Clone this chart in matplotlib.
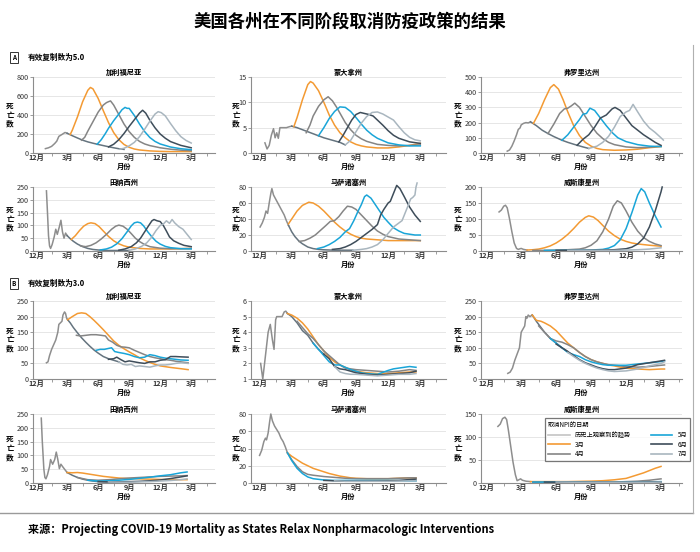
import matplotlib.pyplot as plt
from matplotlib.lines import Line2D

plt.rcParams['font.family'] = ['Noto Sans CJK SC', 'DejaVu Sans']

W, H = 700, 552

# x: month index, 0 = 2019年12月, 3 = 2020年3月, ..., 15 = 2021年3月
month_pos = [0, 3, 6, 9, 12, 15]
month_lbl = ['12月', '3月', '6月', '9月', '12月', '3月']

series_names = ['历史上观察到的趋势', '3月', '4月', '5月', '6月', '7月']
series_colors = ['#8e8e8e', '#f39a33', '#858585', '#19a5d8', '#3e4d5a', '#a9b6bf']
legend_colors = ['#c4c4c4', '#f39a33', '#858585', '#19a5d8', '#3e4d5a', '#a9b6bf']
base_color = '#65747f'

# ---------- A: 有效复制数为5.0 ----------
ca5_yt = [0, 200, 400, 600, 800]
ca5_hist = [(0.9, 46), (1.2, 55), (1.5, 70), (1.8, 100), (2.0, 125), (2.2, 175), (2.5, 195), (2.8, 216), (3.0, 208)]
ca5_base = [(3.0, 208), (3.5, 182), (4.0, 158), (4.5, 135), (5.0, 117), (5.5, 103), (6.0, 90), (6.5, 78),
            (7.0, 66), (7.5, 55), (8.0, 45), (8.5, 38)]
ca5_m3 = [(3.3, 195), (3.5, 240), (4.0, 380), (4.5, 540), (5.0, 660), (5.25, 690), (5.5, 675), (6.0, 575),
          (6.5, 445), (7.0, 320), (7.5, 215), (8.0, 140), (8.5, 90), (9.0, 60), (9.5, 42), (10, 32), (11, 22),
          (12, 17), (13, 15), (14, 15), (15, 15)]
ca5_m4 = [(4.4, 135), (4.7, 165), (5.0, 230), (5.5, 330), (6.0, 430), (6.5, 505), (6.8, 530), (7.0, 540),
          (7.2, 548), (7.5, 505), (8.0, 405), (8.5, 305), (9.0, 225), (9.5, 165), (10, 122), (10.5, 95),
          (11, 78), (12, 55), (13, 40), (14, 30), (15, 24)]
ca5_m5 = [(5.9, 92), (6.3, 140), (6.7, 205), (7.0, 260), (7.5, 340), (8.0, 410), (8.3, 455), (8.6, 480),
          (8.8, 470), (9.0, 470), (9.5, 395), (10, 305), (10.5, 225), (11, 163), (11.5, 122), (12, 95),
          (13, 63), (14, 45), (15, 35)]
ca5_m6 = [(7.0, 64), (7.5, 92), (8.0, 140), (8.5, 205), (9.0, 280), (9.5, 350), (10, 420), (10.3, 450),
          (10.6, 420), (11, 345), (11.5, 265), (12, 200), (12.5, 155), (13, 120), (14, 80), (15, 55)]
ca5_m7 = [(8.1, 40), (8.5, 50), (9.0, 75), (9.5, 112), (10, 172), (10.5, 250), (11, 335), (11.5, 410),
          (11.8, 435), (12.1, 425), (12.5, 390), (13, 310), (13.5, 235), (14, 172), (14.5, 132), (15, 105)]

mt5_yt = [0, 5, 10, 15]
mt5_hist = [(0.5, 2.0), (0.7, 0.8), (0.9, 1.5), (1.1, 3.5), (1.3, 4.8), (1.45, 3.0), (1.6, 4.0), (1.75, 2.9),
            (1.9, 5.0), (2.2, 5.0), (2.5, 5.0), (2.8, 5.2), (3.0, 5.3)]
mt5_base = [(3.0, 5.3), (3.5, 5.0), (4.0, 4.6), (4.5, 4.2), (5.0, 3.8), (5.5, 3.4), (6.0, 3.0), (6.5, 2.7),
            (7.0, 2.4), (7.5, 2.1), (8.0, 1.6)]
mt5_m3 = [(3.2, 5.2), (3.5, 7.0), (4.0, 10.5), (4.5, 13.5), (4.75, 14.1), (5.0, 13.8), (5.5, 12.3), (6.0, 10.0),
          (6.5, 7.5), (7.0, 5.5), (7.5, 4.0), (8.0, 3.0), (8.5, 2.2), (9.0, 1.7), (9.5, 1.4), (10, 1.2),
          (11, 1.0), (12, 1.0), (13, 1.2), (14, 1.5), (15, 1.9)]
mt5_m4 = [(4.35, 4.0), (4.7, 5.5), (5.0, 7.3), (5.5, 9.2), (6.0, 10.5), (6.4, 11.1), (6.8, 10.3), (7.2, 9.0),
          (7.6, 7.5), (8.0, 6.0), (8.5, 4.6), (9.0, 3.5), (9.5, 2.8), (10, 2.3), (11, 1.7), (12, 1.5),
          (13, 1.4), (14, 1.5), (15, 1.6)]
mt5_m5 = [(5.5, 3.4), (6.0, 5.0), (6.5, 6.8), (7.0, 8.2), (7.5, 9.1), (8.0, 9.0), (8.5, 8.2), (9.0, 7.0),
          (9.5, 5.7), (10, 4.5), (10.5, 3.6), (11, 2.9), (12, 2.0), (13, 1.6), (14, 1.4), (15, 1.4)]
mt5_m6 = [(7.4, 2.2), (7.8, 3.5), (8.2, 5.0), (8.6, 6.5), (9.0, 7.6), (9.4, 8.0), (9.8, 7.8), (10.2, 7.6),
          (10.6, 7.3), (11.0, 6.5), (11.5, 5.5), (12, 4.4), (12.5, 3.5), (13, 2.9), (14, 2.2), (15, 1.9)]
mt5_m7 = [(8.0, 1.6), (8.5, 2.5), (9.0, 4.2), (9.5, 5.9), (10, 7.2), (10.5, 8.0), (11, 8.1), (11.5, 7.7),
          (12, 7.1), (12.5, 6.5), (13, 5.2), (13.5, 4.0), (14, 3.1), (14.5, 2.6), (15, 2.4)]

fl5_yt = [0, 100, 200, 300, 400, 500]
fl5_hist = [(1.8, 12), (2.0, 20), (2.2, 45), (2.4, 80), (2.6, 120), (2.75, 155), (2.9, 165), (3.0, 185),
            (3.2, 195), (3.4, 200), (3.6, 198), (3.8, 205)]
fl5_base = [(3.8, 205), (4.3, 180), (4.8, 150), (5.3, 128), (5.8, 108), (6.5, 84), (7.0, 70), (7.5, 58),
            (7.8, 51), (8.3, 40), (8.8, 30)]
fl5_m3 = [(4.05, 195), (4.5, 260), (5.0, 350), (5.5, 430), (5.8, 450), (6.2, 420), (6.6, 350), (7.0, 270),
          (7.5, 180), (8.0, 115), (8.5, 70), (9.0, 45), (9.5, 30), (10, 22), (11, 18), (12, 20), (13, 25),
          (14, 35), (15, 42)]
fl5_m4 = [(5.3, 128), (5.8, 190), (6.3, 260), (6.7, 290), (7.0, 295), (7.3, 310), (7.6, 328), (8.0, 300),
          (8.5, 240), (9.0, 180), (9.5, 130), (10, 95), (10.5, 70), (11, 55), (12, 40), (13, 35), (14, 38), (15, 45)]
fl5_m5 = [(6.5, 84), (7.0, 120), (7.5, 170), (8.0, 220), (8.3, 255), (8.6, 260), (8.9, 295), (9.3, 280),
          (9.8, 230), (10.3, 180), (10.8, 135), (11.3, 100), (12, 75), (13, 55), (14, 45), (15, 42)]
fl5_m6 = [(7.8, 51), (8.3, 90), (8.8, 120), (9.3, 170), (9.8, 230), (10.3, 250), (10.8, 290), (11.05, 300),
          (11.5, 280), (12, 230), (12.5, 180), (13, 150), (13.5, 120), (14, 95), (14.5, 70), (15, 50)]
fl5_m7 = [(8.8, 30), (9.5, 45), (10, 70), (10.5, 110), (11, 170), (11.5, 240), (12, 270), (12.3, 280),
          (12.6, 320), (13, 270), (13.5, 210), (14, 165), (14.5, 135), (15, 100), (15.2, 85)]

tn5_yt = [0, 50, 100, 150, 200, 250]
tn5_hist = [(1.0, 235), (1.1, 150), (1.2, 60), (1.3, 20), (1.4, 10), (1.55, 25), (1.75, 55), (1.9, 85),
            (2.05, 65), (2.25, 95), (2.4, 120), (2.55, 75), (2.7, 50), (2.85, 70), (3.0, 60)]
tn5_base = [(3.0, 60), (3.3, 48), (3.6, 38), (4.0, 27), (4.5, 17), (5.0, 10), (5.5, 6), (6.0, 4), (6.5, 3),
            (7.0, 2), (8.0, 2), (9.0, 2)]
tn5_m3 = [(3.4, 45), (3.8, 60), (4.2, 80), (4.6, 97), (5.0, 107), (5.3, 110), (5.7, 107), (6.1, 95), (6.5, 78),
          (7.0, 57), (7.5, 40), (8.0, 28), (8.5, 20), (9.0, 15), (10, 10), (11, 8), (12, 8), (13, 8), (14, 9), (15, 10)]
tn5_m4 = [(4.3, 20), (4.8, 17), (5.3, 22), (5.8, 32), (6.3, 47), (6.8, 65), (7.3, 85), (7.7, 97), (8.0, 101),
          (8.4, 97), (8.8, 85), (9.2, 68), (9.6, 50), (10, 37), (10.5, 25), (11, 17), (12, 11), (13, 9), (14, 9), (15, 10)]
tn5_m5 = [(6.2, 4), (6.8, 8), (7.3, 15), (7.8, 28), (8.3, 48), (8.8, 75), (9.2, 98), (9.5, 110), (9.8, 113),
          (10.1, 110), (10.4, 98), (10.8, 75), (11.2, 55), (11.6, 38), (12, 27), (12.5, 18), (13, 13), (14, 9), (15, 8)]
tn5_m6 = [(8.0, 3), (8.6, 8), (9.2, 17), (9.7, 32), (10.1, 50), (10.5, 75), (10.9, 100), (11.2, 118), (11.4, 123),
          (11.7, 118), (12.0, 115), (12.3, 100), (12.6, 78), (12.9, 55), (13.3, 40), (13.8, 30), (14.3, 22), (15, 17)]
tn5_m7 = [(9.0, 3), (9.6, 8), (10.2, 18), (10.7, 32), (11.2, 55), (11.6, 80), (12, 100), (12.3, 105), (12.6, 118),
          (12.9, 108), (13.15, 123), (13.4, 110), (13.8, 95), (14.2, 85), (14.6, 65), (15, 45)]

ma5_yt = [0, 20, 40, 60, 80]
ma5_hist = [(0.05, 30), (0.25, 35), (0.45, 42), (0.6, 50), (0.75, 47), (0.9, 60), (1.05, 72), (1.15, 78),
            (1.3, 70), (1.5, 65), (1.7, 60), (1.9, 55), (2.1, 50), (2.3, 45), (2.5, 38), (2.7, 32)]
ma5_base = [(2.7, 32), (3.0, 24), (3.3, 18), (3.7, 12), (4.0, 9), (4.5, 5), (5.0, 3), (5.5, 2), (6.0, 1.5),
            (7.0, 1), (8.0, 1), (8.7, 1)]
ma5_m3 = [(2.7, 34), (3.0, 40), (3.5, 50), (4.0, 57), (4.6, 61), (5.0, 60), (5.5, 56), (6.0, 50), (6.5, 43),
          (7.0, 36), (7.5, 30), (8.0, 25), (8.5, 21), (9.0, 18), (9.5, 16), (10, 15), (11, 14), (12, 13), (13, 13),
          (14, 13), (15, 13)]
ma5_m4 = [(3.7, 12), (4.2, 13), (4.7, 16), (5.2, 20), (5.7, 26), (6.2, 32), (6.6, 37), (7.0, 38), (7.4, 43),
          (7.8, 50), (8.2, 56), (8.6, 55), (9.0, 52), (9.5, 45), (10, 38), (10.5, 31), (11, 25), (11.5, 21),
          (12, 18), (13, 15), (14, 14), (15, 13)]
ma5_m5 = [(5.4, 3), (6.0, 5), (6.5, 8), (7.0, 12), (7.5, 17), (8.0, 24), (8.4, 28), (8.8, 38), (9.2, 50),
          (9.5, 58), (9.8, 68), (10.0, 70), (10.4, 66), (10.8, 58), (11.2, 50), (11.6, 42), (12, 36), (12.5, 29),
          (13, 25), (13.5, 22), (14, 21), (14.5, 20), (15, 20)]
ma5_m6 = [(6.8, 2), (7.5, 3), (8.0, 5), (8.5, 8), (9.0, 12), (9.5, 17), (10, 22), (10.5, 27), (11, 33),
          (11.3, 45), (11.6, 52), (12.0, 60), (12.2, 62), (12.5, 72), (12.8, 82), (13.1, 78), (13.5, 68),
          (14, 55), (14.5, 45), (15, 37)]
ma5_m7 = [(8.7, 1), (9.5, 2), (10, 3), (10.5, 5), (11, 8), (11.5, 14), (12, 22), (12.5, 30), (13, 35),
          (13.3, 38), (13.6, 48), (13.9, 58), (14.1, 65), (14.3, 67), (14.5, 70), (14.6, 80), (14.7, 85)]

wi5_yt = [0, 50, 100, 150, 200]
wi5_hist = [(1.1, 122), (1.3, 128), (1.5, 140), (1.65, 143), (1.8, 135), (2.0, 100), (2.2, 60), (2.4, 25),
            (2.6, 8), (2.75, 5), (2.9, 7), (3.0, 8), (3.2, 5), (3.5, 3)]
wi5_base = []
wi5_m3 = [(3.5, 3), (4.0, 4), (4.5, 6), (5.0, 10), (5.5, 16), (6.0, 25), (6.5, 37), (7.0, 52), (7.5, 70),
          (8.0, 90), (8.5, 105), (8.8, 110), (9.2, 106), (9.6, 95), (10, 80), (10.5, 62), (11, 48), (11.5, 37),
          (12, 30), (12.5, 25), (13, 22), (14, 18), (15, 15)]
wi5_m4 = [(4.0, 2), (5, 2), (6, 3), (7, 4), (8, 6), (8.5, 10), (9.0, 18), (9.5, 32), (10, 60), (10.5, 100),
          (10.9, 140), (11.25, 157), (11.6, 150), (12, 125), (12.5, 90), (13, 62), (13.5, 42), (14, 30),
          (14.5, 22), (15, 17)]
wi5_m5 = [(5, 2), (7, 2), (9, 3), (10, 5), (10.5, 9), (11, 17), (11.5, 35), (12, 70), (12.5, 120), (13, 175),
          (13.3, 195), (13.6, 185), (14, 150), (14.5, 110), (15, 75)]
wi5_m6 = [(6, 2), (8, 2), (10, 3), (11, 4), (12, 7), (12.5, 12), (13, 22), (13.5, 40), (14, 75), (14.5, 125),
          (15, 185), (15.1, 200)]
wi5_m7 = [(7, 2), (9, 2), (11, 2), (12, 3), (13, 4), (14, 6), (15, 10)]

# ---------- B: 有效复制数为3.0 ----------
ca3_yt = [0, 50, 100, 150, 200, 250]
ca3_hist = [(1.0, 52), (1.15, 55), (1.3, 75), (1.5, 95), (1.7, 110), (1.9, 125), (2.1, 150), (2.2, 175),
            (2.35, 180), (2.5, 185), (2.6, 205), (2.75, 215), (2.85, 210), (2.95, 195), (3.05, 190)]
ca3_base = [(3.05, 190), (3.3, 180), (3.6, 165), (4.0, 148), (4.4, 132), (4.8, 118), (5.2, 105), (5.6, 93),
            (6.0, 83), (6.5, 72), (7.0, 65), (7.5, 60), (8.0, 55)]
ca3_m3 = [(3.05, 190), (3.5, 200), (4.0, 210), (4.4, 212), (4.8, 210), (5.2, 200), (5.6, 188), (6.0, 175),
          (6.5, 158), (7.0, 140), (7.5, 122), (8.0, 108), (8.5, 97), (9.0, 87), (9.5, 78), (10, 68), (10.5, 60),
          (11, 53), (11.5, 47), (12, 42), (13, 37), (14, 33), (14.7, 30)]
ca3_m4 = [(3.9, 140), (4.3, 138), (4.8, 140), (5.3, 142), (5.8, 142), (6.3, 140), (6.7, 138), (7.0, 125),
          (7.4, 118), (7.8, 108), (8.2, 103), (8.6, 102), (9.0, 100), (9.5, 92), (10, 85), (10.5, 78), (11, 72),
          (11.5, 68), (12, 65), (12.5, 62), (13, 60), (13.5, 57), (14, 55), (14.7, 52)]
ca3_m5 = [(5.8, 92), (6.2, 95), (6.6, 95), (7.0, 98), (7.3, 100), (7.6, 88), (8.0, 85), (8.5, 82), (9.0, 78),
          (9.5, 72), (10, 68), (10.5, 70), (11, 78), (11.5, 75), (12, 70), (12.5, 67), (13, 65), (13.5, 63),
          (14, 61), (14.7, 60)]
ca3_m6 = [(7.0, 63), (7.5, 65), (7.8, 70), (8.2, 62), (8.6, 55), (9.0, 58), (9.5, 55), (10, 52), (10.5, 50),
          (11, 55), (11.5, 55), (12, 60), (12.5, 62), (13, 72), (13.5, 72), (14, 71), (14.7, 70)]
ca3_m7 = [(8.0, 55), (8.4, 47), (8.8, 45), (9.2, 47), (9.6, 40), (10, 42), (10.5, 40), (11, 38), (11.5, 42),
          (12, 45), (12.5, 45), (13, 47), (13.5, 50), (14, 52), (14.7, 50)]

mt3_yt = [1, 2, 3, 4, 5, 6]
mt3_hist = [(0.1, 2.0), (0.3, 1.0), (0.55, 2.5), (0.8, 4.0), (1.0, 4.5), (1.2, 3.5), (1.35, 2.9), (1.5, 4.8),
            (1.6, 5.0), (1.9, 5.0), (2.1, 5.0), (2.3, 5.3), (2.45, 5.35), (2.6, 5.2)]
mt3_base = [(2.6, 5.2), (3.0, 5.0), (3.5, 4.6), (4.0, 4.1), (4.5, 3.8), (5.0, 3.3), (5.5, 2.9), (6.0, 2.6)]
mt3_m3 = [(2.6, 5.2), (3.0, 5.1), (3.5, 4.9), (4.0, 4.6), (4.5, 4.2), (5.0, 3.7), (5.5, 3.2), (6.0, 2.8),
          (6.5, 2.4), (7.0, 2.1), (7.5, 1.9), (8.0, 1.75), (8.5, 1.6), (9.0, 1.5), (9.5, 1.45), (10, 1.4),
          (11, 1.35), (12, 1.35), (13, 1.4), (14, 1.45), (14.6, 1.45)]
mt3_m4 = [(3.5, 4.7), (4.0, 4.3), (4.5, 3.9), (5.0, 3.6), (5.5, 3.2), (6.0, 2.8), (6.5, 2.5), (7.0, 2.2),
          (7.5, 1.9), (8.0, 1.7), (8.5, 1.65), (9.0, 1.6), (10, 1.55), (11, 1.5), (12, 1.45), (13, 1.5),
          (14, 1.6), (14.6, 1.55)]
mt3_m5 = [(5.0, 3.3), (5.5, 2.9), (6.0, 2.5), (6.5, 2.1), (7.0, 1.9), (7.5, 1.9), (8.0, 1.75), (8.5, 1.6),
          (9.0, 1.5), (9.5, 1.4), (10, 1.35), (11, 1.3), (12, 1.55), (12.5, 1.65), (13, 1.7), (13.5, 1.75),
          (14, 1.8), (14.6, 1.75)]
mt3_m6 = [(6.0, 2.6), (6.5, 2.3), (7.0, 1.8), (7.5, 1.65), (8.0, 1.6), (8.5, 1.5), (9.0, 1.4), (9.5, 1.35),
          (10, 1.3), (11, 1.25), (12, 1.3), (13, 1.35), (14, 1.4), (14.6, 1.5)]
mt3_m7 = [(7.0, 1.8), (7.5, 1.45), (8.0, 1.35), (8.5, 1.3), (9.0, 1.3), (10, 1.25), (11, 1.2), (12, 1.25),
          (13, 1.3), (14, 1.3), (14.6, 1.35)]

fl3_yt = [0, 50, 100, 150, 200, 250]
fl3_hist = [(1.85, 18), (2.05, 22), (2.25, 35), (2.45, 60), (2.65, 80), (2.85, 100), (3.0, 150), (3.15, 160),
            (3.3, 170), (3.4, 200), (3.5, 195), (3.6, 205), (3.75, 200), (3.95, 205)]
fl3_base = [(3.95, 205), (4.3, 185), (4.7, 165), (5.0, 150), (5.5, 130), (6.0, 115), (6.5, 100), (7.0, 88)]
fl3_m3 = [(3.95, 205), (4.3, 188), (4.7, 185), (5.0, 180), (5.5, 170), (6.0, 155), (6.5, 135), (7.0, 115),
          (7.5, 100), (8.0, 85), (8.5, 72), (9.0, 62), (9.5, 55), (10, 50), (10.5, 45), (11, 42), (11.5, 38),
          (12, 35), (13, 32), (14, 30), (15, 32), (15.3, 32)]
fl3_m4 = [(4.5, 170), (5.0, 150), (5.5, 130), (6.0, 122), (6.5, 118), (7.0, 110), (7.5, 100), (8.0, 85),
          (8.5, 72), (9.0, 62), (9.5, 55), (10, 50), (10.5, 46), (11, 44), (12, 40), (13, 38), (14, 40),
          (15, 44), (15.3, 45)]
fl3_m5 = [(5.5, 130), (6.0, 115), (6.5, 100), (7.0, 85), (7.5, 78), (8.0, 72), (8.5, 62), (9.0, 55), (9.5, 50),
          (10, 46), (10.5, 44), (11, 44), (12, 44), (13, 48), (14, 52), (15, 56), (15.3, 58)]
fl3_m6 = [(6.0, 112), (6.5, 100), (7.0, 88), (7.5, 75), (8.0, 62), (8.5, 52), (9.0, 45), (9.5, 38), (10, 33),
          (10.5, 30), (11, 30), (12, 35), (12.5, 40), (13, 46), (14, 52), (15, 58), (15.3, 60)]
fl3_m7 = [(7.0, 85), (7.5, 72), (8.0, 60), (8.5, 50), (9.0, 42), (9.5, 35), (10, 30), (10.5, 26), (11, 24),
          (12, 26), (13, 32), (14, 42), (15, 50), (15.3, 55)]

tn3_yt = [0, 50, 100, 150, 200, 250]
tn3_hist = [(0.5, 235), (0.6, 150), (0.75, 50), (0.85, 20), (0.95, 15), (1.1, 30), (1.3, 60), (1.4, 85),
            (1.6, 68), (1.8, 85), (1.95, 112), (2.1, 85), (2.25, 52), (2.4, 68), (2.55, 60), (2.75, 50), (3.0, 38)]
tn3_base = [(3.0, 38), (3.5, 28), (4.0, 20), (4.5, 14), (5.0, 10), (5.5, 7), (6.0, 5), (7.0, 4)]
tn3_m3 = [(3.0, 38), (3.5, 37), (4.0, 38), (4.5, 36), (5.0, 33), (5.5, 30), (6.0, 27), (6.5, 24), (7.0, 22),
          (7.5, 20), (8.0, 18), (8.5, 17), (9.0, 16), (9.5, 16), (10, 15), (11, 14), (12, 13), (13, 12),
          (14, 12), (14.6, 12)]
tn3_m4 = [(4.0, 20), (5, 12), (6, 10), (7, 12), (8, 15), (9, 18), (10, 20), (11, 22), (12, 24), (13, 25),
          (14, 26), (14.6, 27)]
tn3_m5 = [(5.0, 10), (6, 7), (7, 8), (8, 10), (9, 13), (10, 17), (11, 21), (12, 26), (13, 30), (14, 37), (14.6, 40)]
tn3_m6 = [(6, 5), (7, 4), (8, 4), (9, 5), (10, 6), (11, 8), (12, 11), (13, 16), (14, 22), (14.6, 26)]
tn3_m7 = [(7, 4), (8, 3), (9, 3), (10, 4), (11, 5), (12, 7), (13, 9), (14, 12), (14.6, 15)]

ma3_yt = [0, 20, 40, 60, 80]
ma3_hist = [(0.0, 32), (0.2, 38), (0.4, 48), (0.55, 52), (0.65, 50), (0.8, 58), (0.95, 72), (1.05, 80),
            (1.2, 72), (1.4, 66), (1.6, 62), (1.8, 58), (2.0, 52), (2.2, 48), (2.4, 42), (2.6, 35)]
ma3_base = []
ma3_m3 = [(2.6, 35), (3.0, 31), (3.5, 27), (4.0, 23), (4.5, 20), (5.0, 17), (5.5, 15), (6.0, 13), (6.5, 11),
          (7.0, 9.5), (7.5, 8), (8.0, 7), (8.5, 6), (9.0, 5.5), (10, 5), (11, 5), (12, 5), (13, 5.5), (14, 6),
          (14.6, 6)]
ma3_m4 = [(2.6, 35), (3.0, 27), (3.5, 19), (4.0, 13), (4.5, 10), (5.0, 9), (6, 7.5), (7, 6.5), (8, 5.5),
          (9, 5), (10, 5), (11, 5), (12, 5), (13, 5.5), (14, 6), (14.6, 6)]
ma3_m5 = [(2.6, 35), (3.0, 26), (3.5, 17), (4.0, 11), (4.5, 7), (5.0, 5), (6, 3.5), (7, 3), (8, 3), (9, 3),
          (10, 3), (11, 3), (12, 3), (13, 2.8), (14, 2.5), (14.6, 2.5)]
ma3_m6 = [(6, 3), (7, 2.5), (8, 2), (9, 2), (10, 2), (11, 2.2), (12, 2.5), (13, 3), (14, 4), (14.6, 4.5)]
ma3_m7 = [(7, 2.5), (8, 2), (9, 2), (10, 2), (11, 2), (12, 2), (13, 2.2), (14, 2.5), (14.6, 2.5)]

wi3_yt = [0, 50, 100, 150]
wi3_hist = [(1.0, 123), (1.2, 128), (1.4, 140), (1.6, 143), (1.75, 138), (1.9, 115), (2.1, 80), (2.3, 45),
            (2.5, 18), (2.65, 5), (2.8, 7), (2.95, 9), (3.1, 6), (3.4, 4), (3.8, 3)]
wi3_base = []
wi3_m3 = [(3.8, 3), (5, 3), (6, 3), (7, 3), (8, 3.5), (9, 4), (10, 5), (11, 7), (12, 10), (12.5, 14), (13, 18),
          (13.5, 22), (14, 27), (14.5, 32), (15, 36)]
wi3_m4 = [(4, 2), (6, 2), (8, 2), (10, 2), (11, 2), (12, 3), (13, 4), (14, 6), (15, 9)]
wi3_m5 = [(4, 2), (6, 2), (8, 2), (10, 1.5), (12, 2), (13, 2), (14, 2.5), (15, 3)]
wi3_m6 = [(5, 2), (8, 1.5), (10, 1.5), (12, 1.5), (14, 2), (15, 2)]
wi3_m7 = [(6, 2), (8, 1.5), (10, 1.5), (12, 1.5), (14, 1.5), (15, 2)]

panels = [
    ('加利福尼亚', ca5_yt, ca5_hist, ca5_base, [ca5_m3, ca5_m4, ca5_m5, ca5_m6, ca5_m7]),
    ('蒙大拿州', mt5_yt, mt5_hist, mt5_base, [mt5_m3, mt5_m4, mt5_m5, mt5_m6, mt5_m7]),
    ('弗罗里达州', fl5_yt, fl5_hist, fl5_base, [fl5_m3, fl5_m4, fl5_m5, fl5_m6, fl5_m7]),
    ('田纳西州', tn5_yt, tn5_hist, tn5_base, [tn5_m3, tn5_m4, tn5_m5, tn5_m6, tn5_m7]),
    ('马萨诸塞州', ma5_yt, ma5_hist, ma5_base, [ma5_m3, ma5_m4, ma5_m5, ma5_m6, ma5_m7]),
    ('威斯康星州', wi5_yt, wi5_hist, wi5_base, [wi5_m3, wi5_m4, wi5_m5, wi5_m6, wi5_m7]),
    ('加利福尼亚', ca3_yt, ca3_hist, ca3_base, [ca3_m3, ca3_m4, ca3_m5, ca3_m6, ca3_m7]),
    ('蒙大拿州', mt3_yt, mt3_hist, mt3_base, [mt3_m3, mt3_m4, mt3_m5, mt3_m6, mt3_m7]),
    ('弗罗里达州', fl3_yt, fl3_hist, fl3_base, [fl3_m3, fl3_m4, fl3_m5, fl3_m6, fl3_m7]),
    ('田纳西州', tn3_yt, tn3_hist, tn3_base, [tn3_m3, tn3_m4, tn3_m5, tn3_m6, tn3_m7]),
    ('马萨诸塞州', ma3_yt, ma3_hist, ma3_base, [ma3_m3, ma3_m4, ma3_m5, ma3_m6, ma3_m7]),
    ('威斯康星州', wi3_yt, wi3_hist, wi3_base, [wi3_m3, wi3_m4, wi3_m5, wi3_m6, wi3_m7]),
]

# layout in pixels
rows_px = [(77, 153), (187, 251), (301, 379), (414, 483)]
cols_px = [(33, 215), (251, 446), (481, 682)]
xlims = [(-0.3, 17.3), (-0.8, 17.4), (-0.45, 16.8)]
ylab_x = [10, 236, 458]


def box(l, t, r, b):
    return [l / W, 1 - b / H, (r - l) / W, (b - t) / H]


def draw(ax, pts, **kw):
    if pts:
        x, y = zip(*pts)
        ax.plot(x, y, clip_on=False, **kw)


fig = plt.figure(figsize=(W / 100, H / 100), dpi=100)
fig.text(0.5, 1 - 22 / H, '美国各州在不同阶段取消防疫政策的结果', ha='center', va='center',
         fontsize=12.5, fontweight='bold')

for i, (name, yt, hist, base, scen) in enumerate(panels):
    r, c = divmod(i, 3)
    t, b = rows_px[r]
    l, rr = cols_px[c]
    ax = fig.add_axes(box(l, t, rr, b))
    draw(ax, hist, color=series_colors[0], lw=1.1)
    draw(ax, base, color=base_color, lw=1.1)
    for k, pts in enumerate(scen):
        draw(ax, pts, color=series_colors[k + 1], lw=1.1)
    ax.set_xlim(xlims[c])
    ax.set_ylim(yt[0], yt[-1])
    ax.set_yticks(yt)
    ax.set_xticks(month_pos)
    ax.set_xticklabels(month_lbl, fontweight='bold')
    ax.set_xticks([1.5, 4.5, 7.5, 10.5, 13.5, 16.5], minor=True)
    for s in ['top', 'right']:
        ax.spines[s].set_visible(False)
    for s in ['left', 'bottom']:
        ax.spines[s].set_color('#8c8c8c')
        ax.spines[s].set_linewidth(0.8)
    ax.grid(axis='y', color='#e2e2e2', lw=0.6)
    ax.set_axisbelow(True)
    ax.tick_params(labelsize=5.2, length=2, width=0.6, color='#8c8c8c', pad=1, labelcolor='#333333')
    ax.tick_params(axis='x', which='major', length=0)
    ax.tick_params(axis='x', which='minor', length=2.5, width=0.6, color='#8c8c8c')
    ax.set_title(name, fontsize=5.2, fontweight='bold', pad=1.5)
    ax.set_xlabel('月份', fontsize=5.2, fontweight='bold', labelpad=1)
    fig.text(ylab_x[c] / W, 1 - (t + b) / 2 / H, '死\n亡\n数', ha='center', va='center',
             fontsize=5.5, fontweight='bold', linespacing=1.0)
    if i == len(panels) - 1:
        handles = [Line2D([], [], color=col, lw=1.2) for col in legend_colors]
        leg = ax.legend(handles, series_names, ncol=2, title='取消NPI的日期', fontsize=4.5,
                        title_fontsize=4.5, loc='upper left', mode='expand',
                        bbox_to_anchor=(545 / W, 1 - 418 / H, 145 / W, 0), bbox_transform=fig.transFigure,
                        frameon=True, fancybox=False, edgecolor='#555555', handlelength=3.5,
                        labelspacing=0.3, borderpad=0.45, handletextpad=0.8, borderaxespad=0)
        leg._legend_box.align = 'left'
        leg.get_frame().set_linewidth(0.9)

# section labels
for y_px, letter, txt in [(57.5, 'A', '有效复制数为5.0'), (283.5, 'B', '有效复制数为3.0')]:
    fig.text(14 / W, 1 - y_px / H, letter, ha='center', va='center', fontsize=4.5, fontweight='bold',
             bbox=dict(boxstyle='square,pad=0.35', fc='white', ec='#333333', lw=0.7))
    fig.text(28 / W, 1 - y_px / H, txt, ha='left', va='center', fontsize=5.5, fontweight='bold')

# frame lines and source
fig.add_artist(Line2D([0, 693 / W], [1 - 513 / H, 1 - 513 / H], color='#9a9a9a', lw=1.0))
fig.add_artist(Line2D([693 / W, 693 / W], [1 - 45 / H, 1 - 513 / H], color='#b0b0b0', lw=0.8))
fig.text(28 / W, 1 - 530 / H, '来源：Projecting COVID-19 Mortality as States Relax Nonpharmacologic Interventions',
         ha='left', va='center', fontsize=8, fontweight='bold')

fig.savefig('out.png', dpi=100)
